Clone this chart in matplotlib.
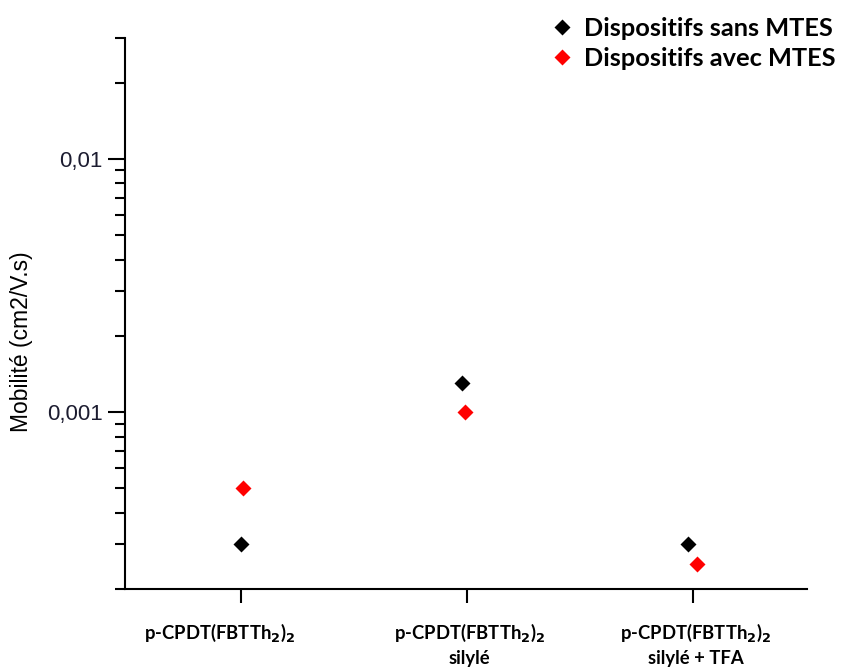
import numpy as np
import matplotlib.pyplot as plt
from matplotlib.ticker import LogLocator, NullFormatter, FixedLocator, FixedFormatter

# data
categories = ['p-CPDT(FBTTh$_\\mathbf{2}$)$_\\mathbf{2}$',
              'p-CPDT(FBTTh$_\\mathbf{2}$)$_\\mathbf{2}$\nsilylé',
              'p-CPDT(FBTTh$_\\mathbf{2}$)$_\\mathbf{2}$\nsilylé + TFA']
x_cat = [1, 2, 3]
x_sans = [1.0, 1.98, 2.98]
x_avec = [1.01, 1.99, 3.02]
mob_sans = [0.0003, 0.0013, 0.0003]
mob_avec = [0.0005, 0.001, 0.00025]

fig = plt.figure(figsize=(8.44, 6.69), dpi=100)
ax = fig.add_axes([125/844, 1-589/669, (807-125)/844, (589-38)/669])

ax.plot(x_sans, mob_sans, 'D', color='black', ms=8, mec='none', label='Dispositifs sans MTES')
ax.plot(x_avec, mob_avec, 'D', color='red', ms=7.8, mec='none', label='Dispositifs avec MTES')

ax.set_yscale('log')
ax.set_ylim(0.0002, 0.03)
ax.set_xlim(0.487, 3.505)

ax.yaxis.set_major_locator(FixedLocator([0.001, 0.01]))
ax.yaxis.set_major_formatter(FixedFormatter(['0,001', '0,01']))
ax.yaxis.set_minor_locator(LogLocator(base=10, subs=np.arange(2, 10)))
ax.yaxis.set_minor_formatter(NullFormatter())

ax.set_xticks(x_cat)
ax.set_xticklabels([])
# category labels drawn as text (first one sits a bit left of its tick)
dx = [-15, 2, 2]
for xc, lab, d in zip(x_cat, categories, dx):
    ax.annotate(lab, xy=(xc, 0), xycoords=('data', 'axes fraction'),
                xytext=(d, -24), textcoords='offset points', ha='center', va='top',
                fontfamily='Lato', fontweight='bold', fontsize=13.3, linespacing=1.4)

ax.tick_params(axis='y', which='major', direction='out', length=12, width=1.5,
               labelsize=16, pad=4)
ax.tick_params(axis='y', which='minor', direction='out', length=7, width=1.5)
ax.tick_params(axis='x', direction='out', length=10, width=1.5)
for lab in ax.get_yticklabels():
    lab.set_fontfamily('Liberation Sans')
    lab.set_color('#1c1c30')

for s in ['top', 'right']:
    ax.spines[s].set_visible(False)
for s in ['left', 'bottom']:
    ax.spines[s].set_linewidth(1.5)

fig.text(22/844, 1-342/669, 'Mobilité (cm2/V.s)', rotation=90, ha='center', va='center',
         fontsize=16.5, fontfamily='Liberation Sans')

fig.legend(loc='upper right', bbox_to_anchor=(848/844, 1-4/669), frameon=False,
           prop={'family': 'Lato', 'weight': 'bold', 'size': 18.3},
           handlelength=0.6, handletextpad=0.55, labelspacing=0.3, borderpad=0)

fig.savefig('out.png', dpi=100)
